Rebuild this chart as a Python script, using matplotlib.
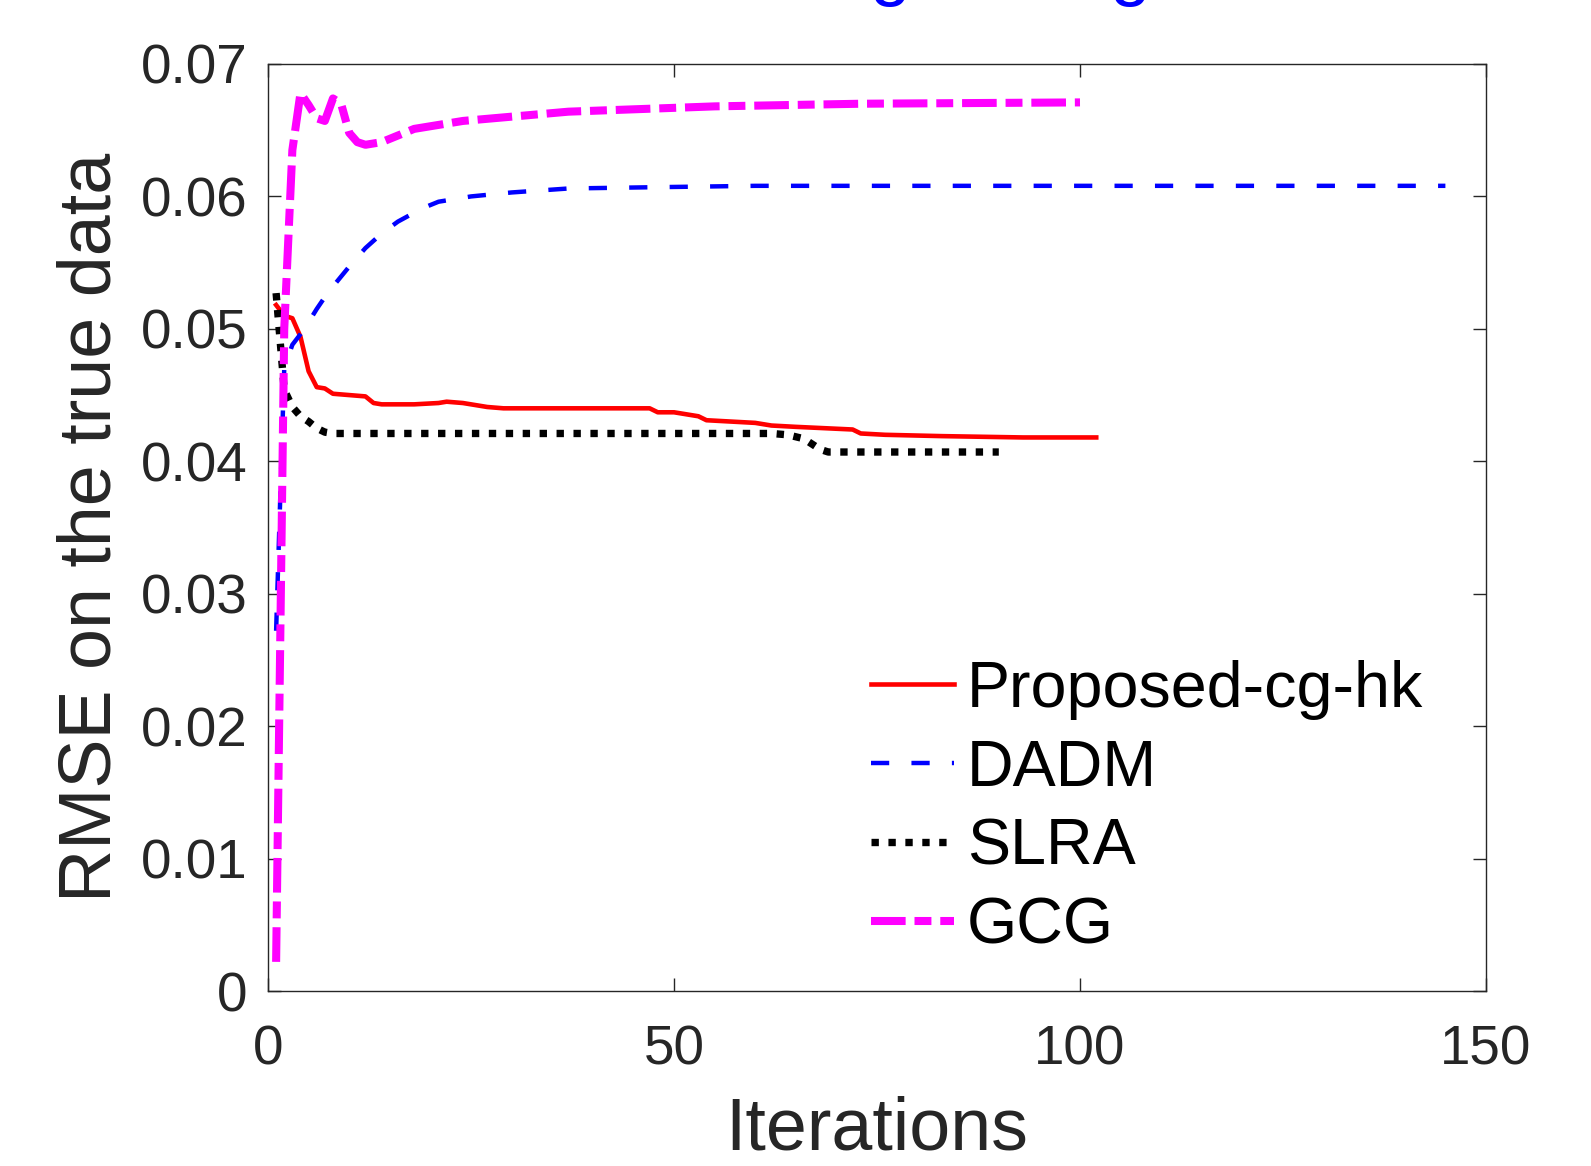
import numpy as np
import matplotlib
matplotlib.use("Agg")
import matplotlib.pyplot as plt

plt.rcParams['font.family'] = ['Liberation Sans', 'DejaVu Sans']

# Proposed-cg-hk
red_it = [1, 2, 3, 4, 5, 6, 7, 8, 10, 12, 13, 14, 18, 21, 22, 24, 26, 27, 29,
          47, 48, 50, 52, 53, 54, 57, 60, 62, 65, 72, 73, 76, 83, 93, 102]
red_val = [0.0518, 0.0510, 0.0508, 0.0494, 0.0468, 0.0456, 0.0455, 0.0451, 0.0450,
           0.0449, 0.0444, 0.0443, 0.0443, 0.0444, 0.0445, 0.0444, 0.0442, 0.0441,
           0.0440, 0.0440, 0.0437, 0.0437, 0.0435, 0.0434, 0.0431, 0.0430, 0.0429,
           0.0427, 0.0426, 0.0424, 0.0421, 0.0420, 0.0419, 0.0418, 0.0418]

# DADM
blue_it = [1, 2, 3, 4, 5, 6, 7, 8, 10, 12, 14, 16, 19, 21, 25, 30, 37, 48, 60, 145]
blue_val = [0.0272, 0.0470, 0.0488, 0.0496, 0.0505, 0.0515, 0.0524, 0.0532, 0.0547,
            0.0561, 0.0572, 0.0581, 0.0591, 0.0596, 0.0600, 0.0603, 0.0606, 0.0607,
            0.0608, 0.0608]

# SLRA
black_it = [1, 2, 3, 4, 5, 6, 7, 8, 62, 64, 66, 67, 68, 69, 90]
black_val = [0.0527, 0.0454, 0.0441, 0.0434, 0.0430, 0.0425, 0.0422, 0.0421, 0.0421,
             0.0420, 0.0417, 0.0413, 0.0409, 0.0407, 0.0407]

# GCG
mag_it = [1, 2, 3, 4, 5, 6, 7, 8, 9, 10, 11, 12, 14, 18, 24, 37, 55, 73, 100]
mag_val = [0.0022, 0.0500, 0.0635, 0.0678, 0.0669, 0.0659, 0.0657, 0.0674, 0.0670,
           0.0648, 0.0641, 0.0639, 0.0641, 0.0651, 0.0657, 0.0664, 0.0668, 0.0670,
           0.0671]

labels = ['Proposed-cg-hk', 'DADM', 'SLRA', 'GCG']

dark = '#262626'

fig = plt.figure(figsize=(15.91, 11.66), dpi=100)
ax = fig.add_axes([268/1591, 1 - 991/1166, (1486 - 268)/1591, (991 - 64)/1166])

ax.plot(red_it, red_val, color='red', lw=3.3, label=labels[0])
ax.plot(blue_it, blue_val, color='blue', lw=3.2, dashes=(4.1, 5.0), dash_capstyle='butt', label=labels[1])
ax.plot(black_it, black_val, color='black', lw=5.3, dashes=(1.0, 1.3), dash_capstyle='butt', label=labels[2])
ax.plot(mag_it, mag_val, color='magenta', lw=5.8, dashes=(4.3, 1.1, 2.1, 1.1), dash_capstyle='butt', label=labels[3])

ax.set_xlim(0, 150)
ax.set_ylim(0, 0.07)
ax.set_xticks([0, 50, 100, 150])
ax.set_yticks(np.arange(0, 0.071, 0.01))
ax.set_yticklabels(['0', '0.01', '0.02', '0.03', '0.04', '0.05', '0.06', '0.07'])

ax.tick_params(direction='in', length=9.4, width=1, top=True, right=True,
               labelsize=39.5, colors=dark, pad=15)
ax.tick_params(axis='x', pad=24)
for s in ax.spines.values():
    s.set_color(dark)
    s.set_linewidth(1.0)

ax.set_xlabel('Iterations', fontsize=53, color=dark, labelpad=14)
ax.set_ylabel('RMSE on the true data', fontsize=53, color=dark, labelpad=11)

leg = ax.legend(loc='upper left', bbox_to_anchor=(871/1591, 1 - 660/1166),
                bbox_transform=fig.transFigure, frameon=False, fontsize=46.5,
                handlelength=1.29, handletextpad=0.2, labelspacing=0.29,
                borderpad=0, borderaxespad=0)

# top of the blue title, cut off by the figure edge
fig.text(890/1591, 1.007, 'g', color='blue', fontsize=53, ha='center', va='baseline')
fig.text(1130/1591, 1.007, 'g', color='blue', fontsize=53, ha='center', va='baseline')

fig.savefig('out.png', dpi=100)
